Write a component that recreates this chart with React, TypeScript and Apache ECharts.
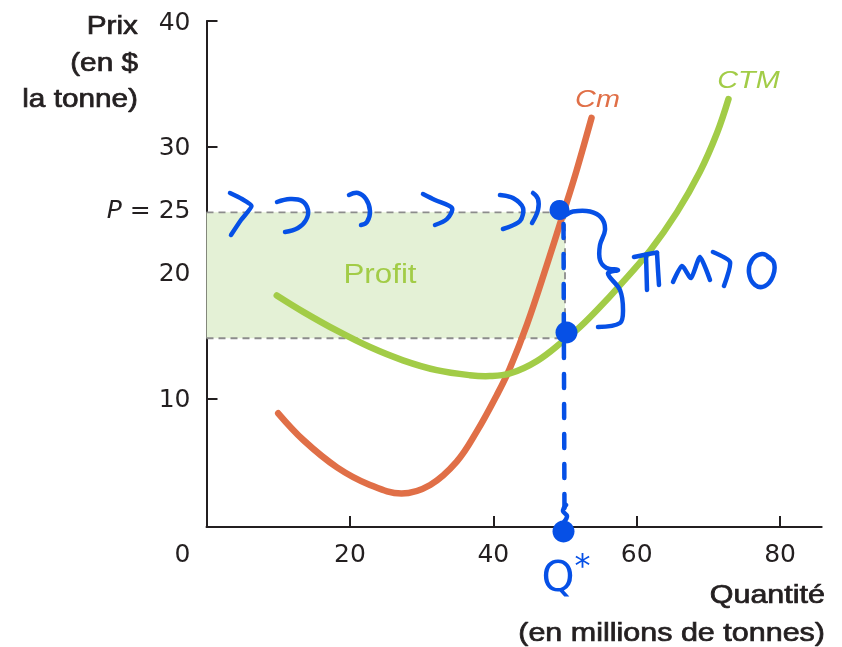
import React, { useEffect, useRef } from "react";
import * as echarts from "echarts";

// ---- data ----
const qCm = [10.0, 13.5, 18.2, 22.8, 27.2, 31.2, 34.9, 37.7, 40.5, 42.3, 44.7, 47.4, 49.8, 51.6, 53.7];
const cm = [8.84, 6.72, 4.55, 3.15, 2.47, 3.15, 5.0, 7.4, 10.3, 12.4, 15.9, 20.5, 24.8, 28.1, 32.3];
const qCtm = [9.8, 13.5, 18.2, 22.8, 27.4, 32.1, 36.7, 39.5, 42.3, 46.1, 50, 52.1, 54.9, 57.4, 61.9, 65.6, 68.8, 71.2, 72.8];
const ctm = [18.2, 16.9, 15.4, 14.1, 13.05, 12.27, 11.87, 11.8, 12.0, 13.0, 14.7, 15.7, 17.3, 18.85, 21.8, 24.8, 28.0, 31.1, 33.8];
const P = 24.8;
const Q = 50;
const ATC = 14.8;
const xTicks = [20, 40, 60, 80];
const xLabels = [0, 20, 40, 60, 80];
const yTicks = [10, 20, 30, 40];
const yLabels = [10, 20, 25, 30, 40];

const ORANGE = "#e06f47";
const GREEN = "#a2cc47";
const FILL = "#e4f1d6";
const GRAY = "#8c8c8c";
const BLUE = "#0650e6";
const INK = "#231f20";

const pts = (xs: number[], ys: number[]) => xs.map((x, i) => [x, ys[i]]);

// smooth curve drawn through the data points via the chart's own coordinate system
const curveSeries = (name: string, data: number[][], color: string, z: number) => ({
  name,
  type: "custom",
  z,
  data,
  encode: { x: 0, y: 1 },
  renderItem: (params: any, api: any) => {
    if (params.dataIndex !== 0) return null;
    const points = data.map((d) => api.coord(d));
    return {
      type: "polyline",
      shape: { points, smooth: 0.38 },
      style: { stroke: color, lineWidth: 6.5, fill: "none", lineCap: "round", lineJoin: "round" },
    };
  },
});

const blueStroke = (points: number[][], smooth = 0.4) => ({
  type: "polyline",
  silent: true,
  z: 100,
  shape: { points, smooth },
  style: { stroke: BLUE, lineWidth: 4.5, fill: null, lineCap: "round", lineJoin: "round" },
});

export default function App() {
  const ref = useRef<HTMLDivElement>(null);
  useEffect(() => {
    if (!ref.current) return;
    const chart = echarts.init(ref.current, undefined, { renderer: "svg" });
    const titleFont = {
      fontFamily: "Liberation Sans",
      fontSize: 25,
      fill: INK,
      stroke: INK,
      lineWidth: 0.7,
    };
    const option: any = {
      animation: false,
      grid: { left: 206.5, right: 20.3, top: 21, bottom: 120, containLabel: false },
      xAxis: {
        type: "value",
        min: 0,
        max: 85.8,
        splitLine: { show: false },
        axisLine: { onZero: false, lineStyle: { color: INK, width: 2 } },
        axisTick: { inside: true, length: 11, customValues: xTicks, lineStyle: { color: INK, width: 2 } },
        axisLabel: {
          customValues: xLabels,
          margin: 14,
          color: INK,
          fontFamily: "DejaVu Sans",
          fontSize: 25,
          formatter: (v: number) => (v === 0 ? "{z|0}" : String(v)),
          rich: { z: { fontFamily: "DejaVu Sans", fontSize: 25, color: INK, padding: [0, 48, 0, 0] } },
        },
      },
      yAxis: {
        type: "value",
        min: -0.19,
        max: 40,
        splitLine: { show: false },
        axisLine: { onZero: false, lineStyle: { color: INK, width: 2 } },
        axisTick: { inside: true, length: 11, customValues: yTicks, lineStyle: { color: INK, width: 2 } },
        axisLabel: {
          customValues: yLabels,
          margin: 16,
          color: INK,
          fontFamily: "DejaVu Sans",
          fontSize: 25,
          formatter: (v: number) => (v === 25 ? "{i|P} = 25" : String(v)),
          rich: { i: { fontFamily: "DejaVu Sans", fontSize: 25, fontStyle: "italic", color: INK } },
        },
      },
      series: [
        {
          type: "line",
          data: [],
          z: 1,
          markArea: {
            silent: true,
            itemStyle: { color: FILL },
            data: [[{ coord: [0, ATC] }, { coord: [Q, P] }]],
          },
        },
        {
          type: "line",
          data: [[0, P], [Q, P]],
          z: 2,
          showSymbol: false,
          lineStyle: { color: GRAY, width: 1.8, type: [7, 5] },
        },
        {
          type: "line",
          data: [[0, ATC], [Q, ATC]],
          z: 2,
          showSymbol: false,
          lineStyle: { color: GRAY, width: 1.8, type: [7, 5] },
        },
        {
          type: "line",
          data: [[Q, P], [Q, ATC]],
          z: 2,
          showSymbol: false,
          lineStyle: { color: GRAY, width: 1.8, type: [7, 5] },
        },
        curveSeries("Cm", pts(qCm, cm), ORANGE, 3),
        curveSeries("CTM", pts(qCtm, ctm), GREEN, 4),
      ],
      graphic: [
        // axis titles
        { type: "text", x: 138, y: 25, scaleX: 1.19, style: { ...titleFont, text: "Prix", align: "right", verticalAlign: "middle" } },
        { type: "text", x: 138, y: 62, scaleX: 1.19, style: { ...titleFont, text: "(en $", align: "right", verticalAlign: "middle" } },
        { type: "text", x: 138, y: 98, scaleX: 1.19, style: { ...titleFont, text: "la tonne)", align: "right", verticalAlign: "middle" } },
        { type: "text", x: 825, y: 594, scaleX: 1.22, style: { ...titleFont, text: "Quantité", align: "right", verticalAlign: "middle" } },
        { type: "text", x: 825, y: 632, scaleX: 1.22, style: { ...titleFont, text: "(en millions de tonnes)", align: "right", verticalAlign: "middle" } },
        // curve labels
        { type: "text", x: 597.5, y: 98.5, scaleX: 1.2, style: { text: "Cm", fontFamily: "Liberation Sans", fontSize: 24, fontStyle: "italic", fill: ORANGE, align: "center", verticalAlign: "middle" } },
        { type: "text", x: 748.5, y: 80, scaleX: 1.2, style: { text: "CTM", fontFamily: "Liberation Sans", fontSize: 24, fontStyle: "italic", fill: GREEN, align: "center", verticalAlign: "middle" } },
        { type: "text", x: 380, y: 273.5, scaleX: 1.16, z: 5, style: { text: "Profit", fontFamily: "Liberation Sans", fontSize: 27, fill: GREEN, align: "center", verticalAlign: "middle" } },
        // hand annotations
        blueStroke([[230, 193], [242, 199], [251.5, 206], [241, 220], [231, 235]], 0.2),
        blueStroke([[277, 202], [290, 199], [302, 201], [308, 210], [306, 220], [298, 228], [285, 232]]),
        blueStroke([[349, 195], [358, 193], [366, 199], [370, 211], [367, 222], [361, 225]]),
        blueStroke([[423, 194], [435, 200], [452, 208], [447, 219], [435, 225]], 0.3),
        blueStroke([[500, 195], [513, 198], [523, 208], [520, 221], [503, 229]], 0.3),
        blueStroke([[533, 193], [538, 199], [538, 210], [532, 223]]),
        // brace
        blueStroke([[566, 215], [573, 211.5], [590, 211.5], [601.5, 218], [605, 230], [600, 245], [600, 260], [606.5, 268], [618, 270], [608, 273.5], [620, 290], [623, 310], [620, 323], [598, 327]], 0.35),
        // hand-written word
        blueStroke([[634, 257], [646, 254.5], [657, 252.5]], 0.2),
        blueStroke([[646, 255], [646.5, 272], [647, 290]], 0.2),
        blueStroke([[657, 253], [658, 270], [659, 285]], 0.2),
        blueStroke([[673, 282], [682, 266], [691, 278], [700, 257], [710, 280]], 0.2),
        blueStroke([[713, 252], [730, 262], [724, 286]], 0.2),
        blueStroke([[770, 258], [762, 254], [752, 260], [749, 273], [755, 285], [765, 286], [773, 276], [774, 263], [768, 257]], 0.4),
        // vertical dashed guide
        {
          type: "line",
          silent: true,
          z: 99,
          shape: { x1: 563.5, y1: 224, x2: 564.5, y2: 520 },
          style: { stroke: BLUE, lineWidth: 4.5, lineDash: [14, 16], lineCap: "round" },
        },
        blueStroke([[566, 505], [563, 511], [567, 516], [564, 522]], 0.4),
        { type: "circle", silent: true, z: 101, shape: { cx: 559.5, cy: 210, r: 10 }, style: { fill: BLUE } },
        { type: "circle", silent: true, z: 101, shape: { cx: 566.5, cy: 332.5, r: 11 }, style: { fill: BLUE } },
        { type: "circle", silent: true, z: 101, shape: { cx: 563.5, cy: 531.5, r: 11 }, style: { fill: BLUE } },
        {
          type: "text",
          x: 566,
          y: 576,
          z: 101,
          style: {
            text: "{q|Q}{s|*}",
            align: "center",
            verticalAlign: "middle",
            rich: {
              q: { fontFamily: "DejaVu Sans", fontSize: 42, fill: BLUE, color: BLUE },
              s: { fontFamily: "DejaVu Sans", fontSize: 32, fill: BLUE, color: BLUE, padding: [0, 0, 22, 0] },
            },
          },
        },
      ],
    };
    chart.setOption(option);
    return () => chart.dispose();
  }, []);
  return <div ref={ref} style={{ position: "fixed", left: 0, top: 0, width: 842, height: 647 }} />;
}
